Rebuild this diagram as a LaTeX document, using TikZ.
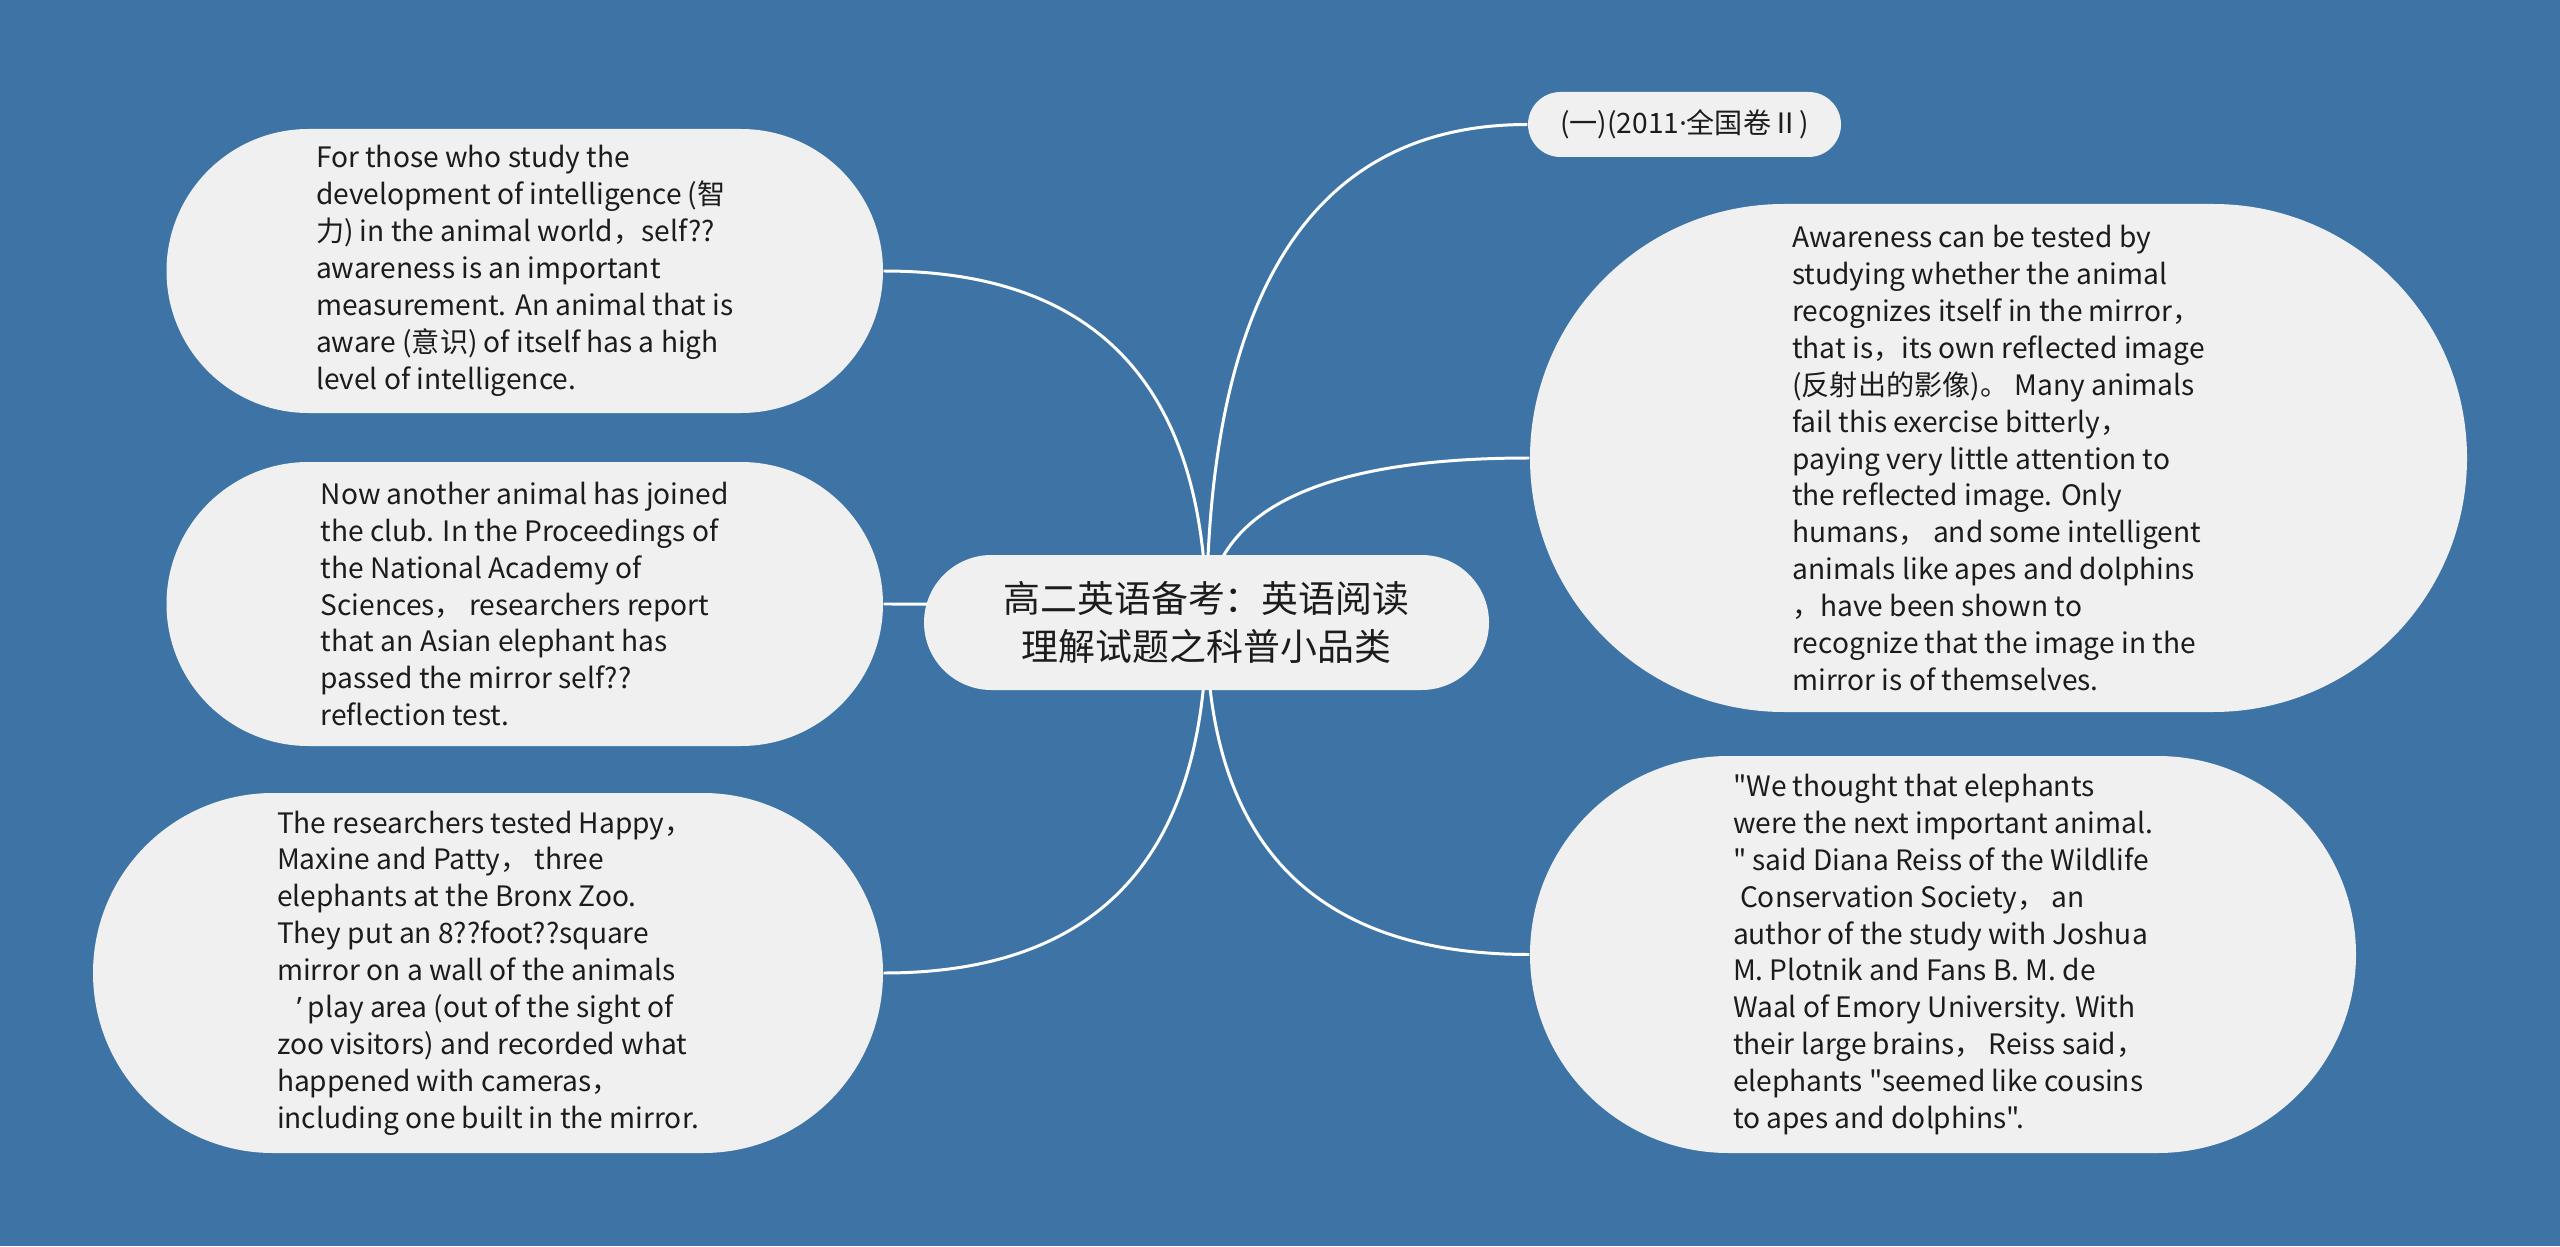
\documentclass[tikz,border=0pt]{standalone}
\usepackage{fontspec}
\setmainfont{Noto Sans CJK SC}[Ligatures=TeXOff]
\newfontfamily\latinfont{Noto Sans}
\usetikzlibrary{calc,backgrounds}
\definecolor{mapblue}{RGB}{62,116,165}
\definecolor{bubblefill}{RGB}{240,240,240}
\definecolor{inktext}{RGB}{28,28,28}
\tikzset{
  bubble/.style     = {rectangle, fill=bubblefill, text=inktext, align=left,
                       inner sep=0pt, font=\fontsize{8}{10.5}\selectfont},
  bubblebox/.style 2 args = {minimum width=#1, minimum height=#2, rounded corners=#2/2},
  rootbubble/.style = {bubble, align=center, font=\fontsize{10.5}{13.4}\selectfont},
  branch/.style     = {draw=white, line width=0.85pt},
}

\begin{document}
\begin{tikzpicture}

  % ---------------- centre ------------------------------------------------
  \node[rootbubble, bubblebox={5.65cm}{1.35cm}] (root) at (12.065,6.235)
       {高二英语备考：英语阅读\\理解试题之科普小品类};

  % ---------------- left side ---------------------------------------------
  \node[bubble, bubblebox={7.165cm}{2.84cm}] (lt) at (5.2475,9.75)
       {For those who study the\\
        development of intelligence (智\\
        力) in the animal world，self??\\
        awareness is an important\\
        measurement. An animal that is\\
        aware (意识) of itself has a high\\
        level of intelligence.};
  \node[bubble, bubblebox={7.165cm}{2.84cm}] (lm) at (5.2475,6.42)
       {Now another animal has joined\\
        the club. In the Proceedings of\\
        the National Academy of\\
        Sciences，  researchers report\\
        that an Asian elephant has\\
        passed the mirror self??\\
        reflection test.};
  \node[bubble, bubblebox={7.90cm}{3.60cm}] (lb) at (4.88,2.73)
       {The researchers tested Happy，\\
        Maxine and Patty，  three\\
        elephants at the Bronx Zoo.\\
        They put an 8??foot??square\\
        mirror on a wall of the animals\\
        \hspace*{0.7em}{\latinfont ’} play area (out of the sight of\\
        zoo visitors) and recorded what\\
        happened with cameras，\\
        including one built in the mirror.};

  % ---------------- right side --------------------------------------------
  \node[bubble, align=center, bubblebox={3.13cm}{0.65cm}] (rs) at (16.845,11.215)
       {(一)(2011{\latinfont ·}全国卷Ⅱ)};
  \node[bubble, bubblebox={9.37cm}{5.08cm}] (rc) at (19.985,7.88)
       {Awareness can be tested by\\
        studying whether the animal\\
        recognizes itself in the mirror，\\
        that is，its own reflected image\\
        (反射出的影像)。 Many animals\\
        fail this exercise bitterly，\\
        paying very little attention to\\
        the reflected image. Only\\
        humans，  and some intelligent\\
        animals like apes and dolphins\\
        ，have been shown to\\
        recognize that the image in the\\
        mirror is of themselves.};
  \node[bubble, bubblebox={8.26cm}{3.97cm}] (rb) at (19.43,2.915)
       {"We thought that elephants\\
        were the next important animal.\\
        " said Diana Reiss of the Wildlife\\
        \hspace*{0.25em}Conservation Society，  an\\
        author of the study with Joshua\\
        M. Plotnik and Fans B. M. de\\
        Waal of Emory University. With\\
        their large brains，  Reiss said，\\
        elephants "seemed like cousins\\
        to apes and dolphins".};

  % ---------------- branches ----------------------------------------------
  \begin{scope}[on background layer]
    \fill[mapblue] (0,0) rectangle (25.6,12.46);
    \foreach \kid/\side in {lt/east,lm/east,lb/east,rs/west,rc/west,rb/west}
      \draw[branch] (root.center)
        .. controls ($(root.center)!2/3!(root.center |- \kid.\side)$)
        and ($(\kid.\side)!2/3!(root.center |- \kid.\side)$) .. (\kid.\side);
  \end{scope}
\end{tikzpicture}
\end{document}
